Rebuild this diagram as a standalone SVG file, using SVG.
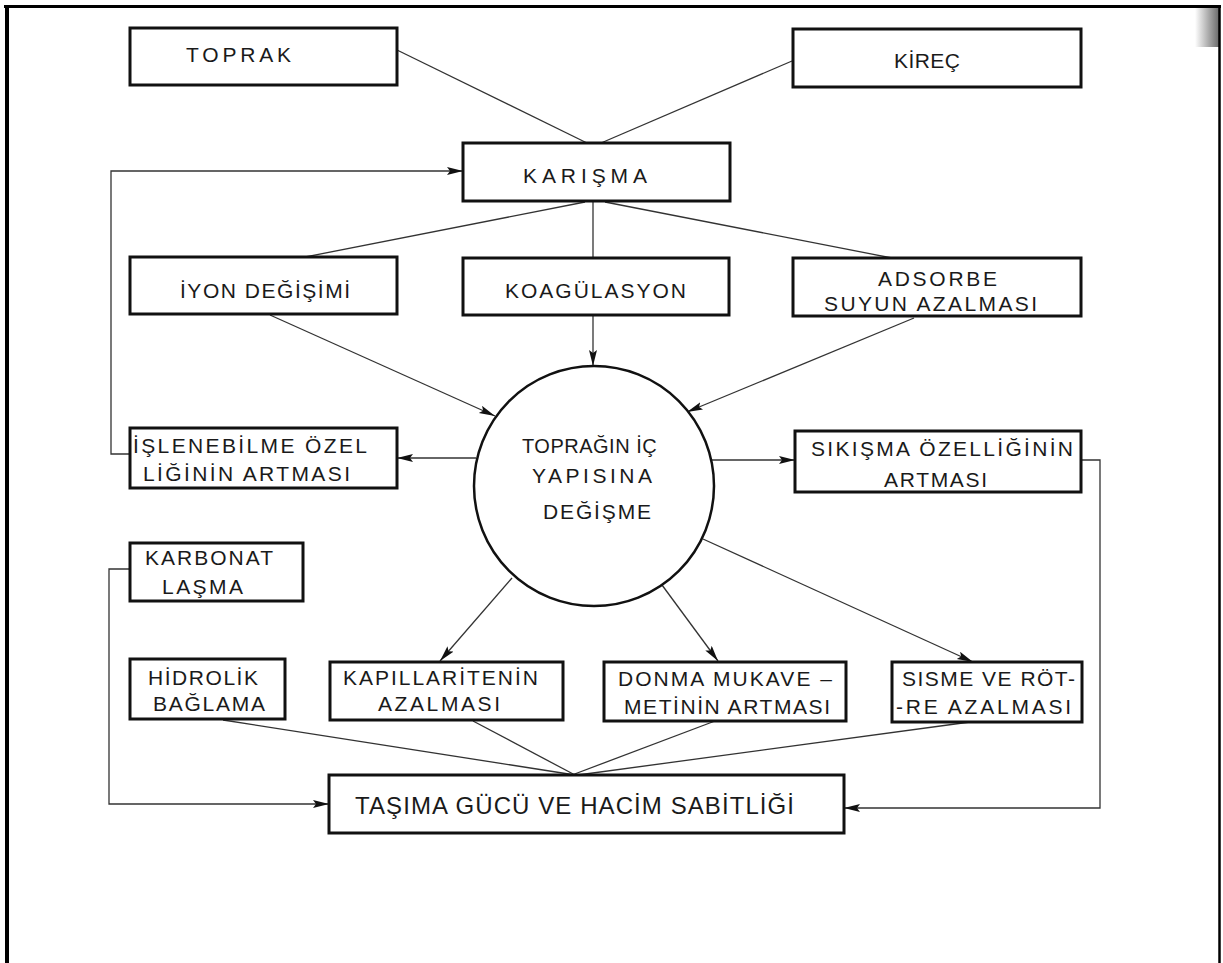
<svg xmlns="http://www.w3.org/2000/svg" width="1223" height="963" viewBox="0 0 1223 963">
<style>
.box{fill:#fff;stroke:#111;stroke-width:3}
.t{font-family:"Liberation Sans",Arial,sans-serif;font-size:21px;fill:#1a1a1a;}
.big{font-size:24px}
.sm{font-size:20px;letter-spacing:0.5px}
.c{fill:none;stroke:#333;stroke-width:1.3}
.a{marker-end:url(#ah)}
</style>
<defs>
<marker id="ah" markerUnits="userSpaceOnUse" markerWidth="18" markerHeight="10" refX="16" refY="4" orient="auto">
<path d="M0,0 L16,4 L0,8 L3,4 z" fill="#111"/>
</marker>
<linearGradient id="sh" x1="0" y1="0" x2="1" y2="0">
<stop offset="0" stop-color="#fff"/>
<stop offset="1" stop-color="#6a6a6a"/>
</linearGradient>
</defs>
<rect width="1223" height="963" fill="#fff"/>
<rect x="1195" y="8" width="24" height="39" fill="url(#sh)"/>
<g id="frame" stroke="#000" fill="none">
<line x1="4" y1="6.5" x2="1221" y2="6.5" stroke-width="3"/>
<line x1="7" y1="5" x2="7" y2="963" stroke-width="4"/>
<line x1="1219.5" y1="5" x2="1219.5" y2="963" stroke-width="2.5"/>
</g>
<g id="connectors">
<line class="c" x1="397" y1="50" x2="587" y2="143"/>
<line class="c" x1="792" y1="61" x2="601" y2="143"/>
<line class="c" x1="585" y1="202" x2="300" y2="258"/>
<line class="c" x1="593" y1="202" x2="593" y2="258"/>
<line class="c" x1="605" y1="202" x2="892" y2="258"/>
<line class="c a" x1="270" y1="315" x2="495" y2="416"/>
<line class="c a" x1="593" y1="316" x2="593" y2="366"/>
<line class="c a" x1="914" y1="318" x2="687" y2="412"/>
<line class="c a" x1="476" y1="458" x2="397" y2="458"/>
<line class="c a" x1="712" y1="460" x2="795" y2="460"/>
<polyline class="c a" points="130,454 111,454 111,171 463,171"/>
<polyline class="c a" points="1081,460 1100,460 1100,808 844,808"/>
<polyline class="c a" points="130,569 109,569 109,804 329,804"/>
<line class="c a" x1="512" y1="578" x2="440" y2="661"/>
<line class="c a" x1="662" y1="585" x2="718" y2="661"/>
<line class="c a" x1="703" y1="539" x2="973" y2="662"/>
<line class="c" x1="223" y1="720" x2="575" y2="775"/>
<line class="c" x1="473" y1="721" x2="575" y2="775"/>
<line class="c" x1="715" y1="721" x2="572" y2="775"/>
<line class="c" x1="970" y1="722" x2="578" y2="775"/>
</g>
<g id="toprak"><rect class="box" x="130" y="28" width="267" height="57"/>
<text class="t" x="186" y="62" textLength="105">TOPRAK</text></g>
<g id="kirec"><rect class="box" x="793" y="29" width="288" height="58"/>
<text class="t" x="894" y="68" textLength="66">KİREÇ</text></g>
<g id="karisma"><rect class="box" x="463" y="143" width="267" height="58"/>
<text class="t" x="523" y="183" textLength="124">KARIŞMA</text></g>
<g id="iyon"><rect class="box" x="130" y="257" width="267" height="57"/>
<text class="t" x="180" y="298" textLength="170">İYON DEĞİŞİMİ</text></g>
<g id="koag"><rect class="box" x="463" y="258" width="266" height="57"/>
<text class="t" x="505" y="298" textLength="181">KOAGÜLASYON</text></g>
<g id="adsorbe"><rect class="box" x="793" y="258" width="288" height="58"/>
<text class="t" x="878" y="286" textLength="119">ADSORBE</text>
<text class="t" x="824" y="311" textLength="213">SUYUN AZALMASI</text></g>
<g id="ic-yapi"><circle cx="594" cy="486" r="120" fill="#fff" stroke="#111" stroke-width="2.5"/>
<text class="t sm" x="522" y="453">TOPRAĞIN İÇ</text>
<text class="t" x="532" y="483" textLength="120">YAPISINA</text>
<text class="t" x="543" y="519" textLength="108">DEĞİŞME</text></g>
<g id="islenebilme"><rect class="box" x="130" y="428" width="267" height="60"/>
<text class="t" x="133" y="453" textLength="234">İŞLENEBİLME ÖZEL</text>
<text class="t" x="143" y="481" textLength="207">LİĞİNİN ARTMASI</text></g>
<g id="sikisma"><rect class="box" x="795" y="431" width="286" height="61"/>
<text class="t" x="811" y="456" textLength="262">SIKIŞMA ÖZELLİĞİNİN</text>
<text class="t" x="884" y="487" textLength="103">ARTMASI</text></g>
<g id="karbonat"><rect class="box" x="130" y="543" width="173" height="58"/>
<text class="t" x="145" y="565" textLength="128">KARBONAT</text>
<text class="t" x="162" y="594" textLength="81">LAŞMA</text></g>
<g id="hidrolik"><rect class="box" x="130" y="659" width="155" height="60"/>
<text class="t" x="148" y="685" textLength="110">HİDROLİK</text>
<text class="t" x="153" y="711" textLength="112">BAĞLAMA</text></g>
<g id="kapillar"><rect class="box" x="330" y="662" width="233" height="58"/>
<text class="t" x="343" y="685" textLength="195">KAPILLARİTENİN</text>
<text class="t" x="378" y="711" textLength="122">AZALMASI</text></g>
<g id="donma"><rect class="box" x="604" y="662" width="242" height="59"/>
<text class="t" x="618" y="686" textLength="214">DONMA MUKAVE –</text>
<text class="t" x="624" y="714" textLength="206">METİNİN ARTMASI</text></g>
<g id="sisme"><rect class="box" x="892" y="662" width="190" height="60"/>
<text class="t" x="902" y="686" textLength="173">SISME VE RÖT-</text>
<text class="t" x="896" y="714" textLength="175">-RE AZALMASI</text></g>
<g id="tasima"><rect class="box" x="329" y="775" width="515" height="58"/>
<text class="t big" x="355" y="814" textLength="439">TAŞIMA GÜCÜ VE HACİM SABİTLİĞİ</text></g>
</svg>
